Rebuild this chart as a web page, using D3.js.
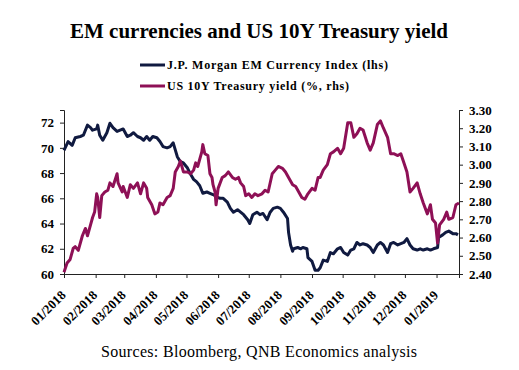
<!DOCTYPE html>
<html>
<head>
<meta charset="utf-8">
<script src="https://cdn.jsdelivr.net/npm/d3@7"></script>
<style>
  body { margin: 0; background: #fff; }
  svg { display: block; font-family: "Liberation Serif", "Times New Roman", serif; }
</style>
</head>
<body>
<div id="chart"></div>
<script>
// J.P. Morgan EM Currency Index (lhs)
var emDates = ["2018-01-01","2018-01-05","2018-01-09","2018-01-12","2018-01-17","2018-01-20","2018-01-24","2018-01-27","2018-01-29","2018-02-02","2018-02-03","2018-02-05","2018-02-08","2018-02-12","2018-02-15","2018-02-18","2018-02-22","2018-02-25","2018-02-28","2018-03-04","2018-03-07","2018-03-10","2018-03-14","2018-03-17","2018-03-20","2018-03-23","2018-03-26","2018-03-29","2018-04-02","2018-04-05","2018-04-08","2018-04-12","2018-04-15","2018-04-18","2018-04-22","2018-04-25","2018-04-28","2018-05-02","2018-05-05","2018-05-08","2018-05-11","2018-05-14","2018-05-17","2018-05-21","2018-05-24","2018-05-27","2018-05-31","2018-06-03","2018-06-06","2018-06-10","2018-06-13","2018-06-16","2018-06-20","2018-06-23","2018-06-26","2018-06-30","2018-07-02","2018-07-05","2018-07-09","2018-07-12","2018-07-15","2018-07-19","2018-07-22","2018-07-25","2018-07-29","2018-08-01","2018-08-04","2018-08-08","2018-08-09","2018-08-11","2018-08-13","2018-08-14","2018-08-18","2018-08-21","2018-08-23","2018-08-27","2018-08-28","2018-09-01","2018-09-04","2018-09-07","2018-09-09","2018-09-12","2018-09-16","2018-09-19","2018-09-22","2018-09-26","2018-09-29","2018-10-02","2018-10-06","2018-10-09","2018-10-12","2018-10-15","2018-10-18","2018-10-21","2018-10-25","2018-10-28","2018-10-31","2018-11-04","2018-11-07","2018-11-10","2018-11-14","2018-11-17","2018-11-20","2018-11-24","2018-11-27","2018-11-30","2018-12-03","2018-12-06","2018-12-09","2018-12-13","2018-12-16","2018-12-19","2018-12-23","2018-12-26","2018-12-29","2019-01-02","2019-01-03","2019-01-07","2019-01-10","2019-01-13","2019-01-17","2019-01-20","2019-01-22"];
var emValues = [69.8,70.5,70.2,70.8,70.9,71.0,71.8,71.6,71.4,71.5,71.8,71.0,70.6,71.2,71.95,71.6,71.3,71.4,71.5,70.9,71.0,71.2,70.9,70.8,70.6,70.9,70.6,70.9,70.8,70.5,70.1,70.0,70.1,70.4,69.3,68.9,68.8,68.4,67.9,67.5,67.3,67.0,66.4,66.5,66.4,66.3,66.1,66.0,66.0,65.7,65.2,64.9,65.1,64.9,64.7,64.3,64.0,64.7,64.9,64.7,64.8,64.3,64.9,65.2,65.3,65.2,64.9,64.4,63.3,62.3,61.8,62.0,62.1,62.0,62.1,62.0,61.3,61.0,60.3,60.3,60.5,61.1,61.0,61.7,61.6,62.0,62.1,61.7,61.5,61.9,62.0,62.5,62.3,62.4,62.3,62.1,61.7,62.3,62.5,62.3,61.7,62.4,62.5,62.3,62.4,62.5,62.8,62.3,62.0,61.9,62.0,61.9,62.0,61.9,62.0,62.1,62.9,63.1,63.3,63.4,63.2,63.2,63.1];

// US 10Y Treasury yield (%, rhs)
var ustDates = ["2018-01-01","2018-01-04","2018-01-07","2018-01-10","2018-01-12","2018-01-15","2018-01-19","2018-01-22","2018-01-24","2018-01-27","2018-01-29","2018-01-31","2018-02-02","2018-02-03","2018-02-05","2018-02-07","2018-02-10","2018-02-13","2018-02-15","2018-02-18","2018-02-22","2018-02-23","2018-02-27","2018-02-28","2018-03-04","2018-03-07","2018-03-10","2018-03-14","2018-03-17","2018-03-20","2018-03-23","2018-03-24","2018-03-28","2018-03-31","2018-04-03","2018-04-05","2018-04-08","2018-04-12","2018-04-15","2018-04-18","2018-04-20","2018-04-23","2018-04-25","2018-04-28","2018-05-02","2018-05-05","2018-05-08","2018-05-10","2018-05-12","2018-05-16","2018-05-17","2018-05-19","2018-05-22","2018-05-24","2018-05-26","2018-05-27","2018-05-29","2018-05-30","2018-06-01","2018-06-05","2018-06-08","2018-06-11","2018-06-15","2018-06-18","2018-06-21","2018-06-23","2018-06-26","2018-06-28","2018-07-01","2018-07-04","2018-07-07","2018-07-10","2018-07-14","2018-07-17","2018-07-20","2018-07-24","2018-07-27","2018-07-30","2018-08-03","2018-08-06","2018-08-09","2018-08-13","2018-08-16","2018-08-19","2018-08-22","2018-08-25","2018-08-28","2018-09-01","2018-09-04","2018-09-07","2018-09-09","2018-09-12","2018-09-16","2018-09-19","2018-09-22","2018-09-26","2018-09-29","2018-10-02","2018-10-06","2018-10-09","2018-10-12","2018-10-15","2018-10-18","2018-10-21","2018-10-25","2018-10-28","2018-10-31","2018-11-04","2018-11-07","2018-11-10","2018-11-14","2018-11-17","2018-11-20","2018-11-24","2018-11-27","2018-11-30","2018-12-03","2018-12-06","2018-12-09","2018-12-13","2018-12-16","2018-12-19","2018-12-23","2018-12-26","2018-12-28","2018-12-31","2019-01-02","2019-01-04","2019-01-08","2019-01-11","2019-01-13","2019-01-17","2019-01-20","2019-01-23"];
var ustValues = [2.41,2.46,2.48,2.54,2.55,2.53,2.61,2.65,2.61,2.67,2.71,2.74,2.84,2.82,2.71,2.83,2.85,2.86,2.90,2.88,2.95,2.90,2.85,2.88,2.82,2.89,2.87,2.90,2.84,2.90,2.87,2.82,2.78,2.73,2.74,2.79,2.78,2.82,2.83,2.87,2.96,2.99,3.02,2.96,2.96,2.95,2.97,3.01,2.99,3.07,3.11,3.06,3.05,2.95,2.93,2.89,2.85,2.78,2.87,2.93,2.94,2.96,2.93,2.92,2.93,2.90,2.88,2.83,2.84,2.82,2.84,2.83,2.84,2.86,2.85,2.95,2.97,2.99,2.98,2.96,2.93,2.89,2.88,2.85,2.82,2.81,2.84,2.87,2.86,2.93,2.93,2.97,3.00,3.06,3.07,3.09,3.06,3.09,3.23,3.23,3.15,3.17,3.20,3.19,3.12,3.08,3.12,3.22,3.24,3.20,3.15,3.06,3.06,3.05,3.06,3.01,2.96,2.85,2.87,2.90,2.84,2.79,2.73,2.78,2.70,2.68,2.57,2.67,2.70,2.74,2.70,2.71,2.78,2.79];

var leftTicks = [60, 62, 64, 66, 68, 70, 72];
var rightTicks = [2.40, 2.50, 2.60, 2.70, 2.80, 2.90, 3.00, 3.10, 3.20, 3.30];
var monthLabels = ["01/2018","02/2018","03/2018","04/2018","05/2018","06/2018","07/2018","08/2018","09/2018","10/2018","11/2018","12/2018","01/2019"];

var seriesNames = ["J.P. Morgan EM Currency Index (lhs)", "US 10Y Treasury yield (%, rhs)"];
var colors = ["#101a40", "#8e1056"];

var W = 519, H = 370;
var margin = { top: 110, right: 60, bottom: 96, left: 64 };
var parse = d3.timeParse("%Y-%m-%d");

var svg = d3.select("#chart").append("svg")
    .attr("width", W)
    .attr("height", H);

// title
svg.append("text")
    .attr("x", 259)
    .attr("y", 38)
    .attr("text-anchor", "middle")
    .style("font-weight", "bold")
    .style("font-size", "21px")
    .text("EM currencies and US 10Y Treasury yield");

// legend (the original spreads its letters out a little)
var legendWidths = [221, 182];
var legend = svg.append("g").attr("transform", "translate(140,65)");
seriesNames.forEach(function(name, i) {
    var row = legend.append("g").attr("transform", "translate(0," + (i * 21) + ")");
    row.append("line")
        .attr("x1", 0).attr("x2", 25)
        .attr("stroke", colors[i])
        .attr("stroke-width", 3);
    row.append("text")
        .attr("x", 27)
        .attr("y", 4)
        .attr("textLength", legendWidths[i])
        .attr("lengthAdjust", "spacing")
        .style("font-weight", "bold")
        .style("font-size", "12px")
        .text(name);
});

var x = d3.scaleTime()
    .domain([parse("2018-01-01"), parse("2019-01-23")])
    .range([margin.left, W - margin.right]);

var yL = d3.scaleLinear()
    .domain([60, 73])
    .range([H - margin.bottom, margin.top]);

var yR = d3.scaleLinear()
    .domain([2.40, 3.30])
    .range([H - margin.bottom, margin.top]);

// axes
var monthDates = monthLabels.map(function(m) { return d3.timeParse("%m/%Y")(m); });

var xAxis = svg.append("g")
    .attr("transform", "translate(0," + (H - margin.bottom) + ")")
    .call(d3.axisBottom(x).tickValues(monthDates).tickSize(4)
        .tickFormat(function(d, i) { return monthLabels[i]; }));
xAxis.selectAll("text")
    .attr("text-anchor", "end")
    .attr("x", 0)
    .attr("y", 0)
    .attr("dy", 0)
    .attr("transform", "translate(2,22) rotate(-45)")
    .style("font-weight", "bold")
    .style("font-size", "13px")
    .style("font-family", "Liberation Serif, serif");

var leftAxis = svg.append("g")
    .attr("transform", "translate(" + margin.left + ",0)")
    .call(d3.axisLeft(yL).tickValues(leftTicks).tickSize(4).tickPadding(6).tickFormat(d3.format("d")));
leftAxis.selectAll("text")
    .style("font-weight", "bold")
    .style("font-size", "13px")
    .style("font-family", "Liberation Serif, serif");

var rightAxis = svg.append("g")
    .attr("transform", "translate(" + (W - margin.right) + ",0)")
    .call(d3.axisRight(yR).tickValues(rightTicks).tickSize(4).tickPadding(6).tickFormat(d3.format(".2f")));
rightAxis.selectAll("text")
    .style("font-weight", "bold")
    .style("font-size", "13px")
    .style("font-family", "Liberation Serif, serif");

svg.selectAll(".domain").attr("stroke", "#222");
svg.selectAll(".tick line").attr("stroke", "#222");

// lines
var emData = emDates.map(function(d, i) { return { date: parse(d), value: emValues[i] }; });
var ustData = ustDates.map(function(d, i) { return { date: parse(d), value: ustValues[i] }; });

var lineL = d3.line()
    .x(function(d) { return x(d.date); })
    .y(function(d) { return yL(d.value); });
var lineR = d3.line()
    .x(function(d) { return x(d.date); })
    .y(function(d) { return yR(d.value); });

svg.append("path")
    .datum(emData)
    .attr("fill", "none")
    .attr("stroke", colors[0])
    .attr("stroke-width", 3)
    .attr("stroke-linejoin", "round")
    .attr("d", lineL);

svg.append("path")
    .datum(ustData)
    .attr("fill", "none")
    .attr("stroke", colors[1])
    .attr("stroke-width", 3)
    .attr("stroke-linejoin", "round")
    .attr("d", lineR);

// source note
svg.append("text")
    .attr("x", 259)
    .attr("y", 357)
    .attr("text-anchor", "middle")
    .attr("textLength", 316)
    .attr("lengthAdjust", "spacing")
    .style("font-size", "16px")
    .text("Sources: Bloomberg, QNB Economics analysis");
</script>
</body>
</html>
